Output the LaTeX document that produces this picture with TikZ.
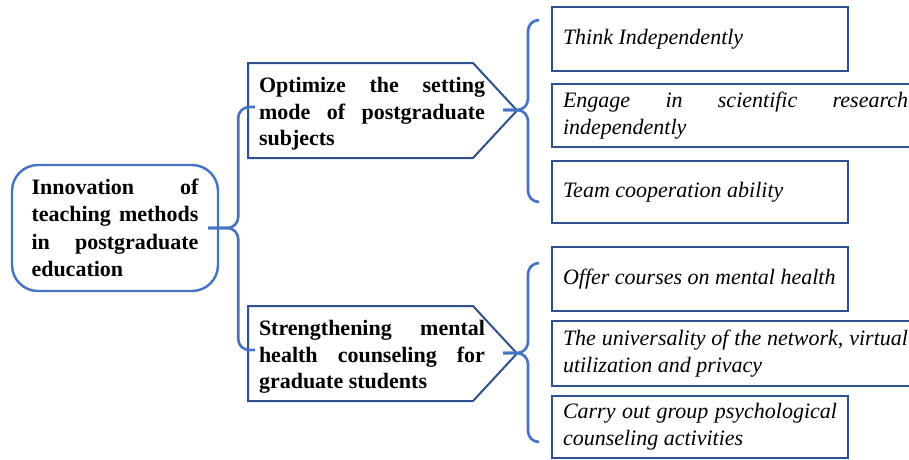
\documentclass[tikz,border=0pt]{standalone}
\usepackage{fontspec}
\setmainfont{Liberation Serif}
\usetikzlibrary{positioning}
\definecolor{boxblue}{HTML}{2F528F}
\definecolor{linkblue}{HTML}{4472C4}
\hyphenpenalty=10000
\tolerance=9999

\begin{document}
\begin{tikzpicture}[x=1pt, y=-1pt,
    rootbox/.style={draw=linkblue, line width=2.4pt, rounded corners=26pt, minimum width=206pt, minimum height=126pt, text width=167pt, align=justify, font=\fontsize{22}{27.5}\selectfont\bfseries},
    branchtext/.style={text width=226pt, inner sep=0pt, align=justify, font=\fontsize{22}{26.5}\selectfont\bfseries},
    pentline/.style={draw=boxblue, line width=2pt, line join=miter},
    leaf/.style={draw=boxblue, line width=2pt, anchor=west, inner xsep=11pt, text width=274pt, minimum height=64pt, align=justify, font=\fontsize{22}{27}\selectfont\itshape},
    wideleaf/.style={leaf, text width=345pt},
    brace/.style={draw=linkblue, line width=2.6pt, rounded corners=11pt}]

    \useasboundingbox (0,0) rectangle (909,459);
    \clip (0,0) rectangle (909,459);

    % Root
    \node[rootbox] (root) at (115,228) {Innovation of\linebreak teaching methods\linebreak in postgraduate\linebreak education};

    % Branches (pentagons)
    \draw[pentline] (248,63) -- (473,63) -- (517,110.5) -- (473,158) -- (248,158) -- cycle;
    \node[branchtext] (optim) at (372,114) {Optimize the setting\linebreak mode of postgraduate\linebreak subjects};
    \draw[pentline] (248,306) -- (473,306) -- (517,353.5) -- (473,401) -- (248,401) -- cycle;
    \node[branchtext] (mental) at (372,357) {Strengthening mental\linebreak health counseling for\linebreak graduate students};

    \coordinate (optimIn) at (255,107);
    \coordinate (mentalIn) at (255,350);
    \coordinate (optimTip) at (503,110);
    \coordinate (mentalTip) at (503,353);

    % Leaves
    \node[leaf] (think) at (551,39) {Think Independently};
    \node[wideleaf, minimum height=63pt] (engage) at (551,115.5) {Engage in scientific research\linebreak independently};
    \node[leaf, minimum height=62pt] (team) at (551,192) {Team cooperation ability};
    \node[leaf] (offer) at (551,279) {Offer courses on mental health};
    \node[wideleaf, minimum height=65pt] (network) at (551,353.5) {The universality of the network, virtual\linebreak utilization and privacy};
    \node[leaf, minimum height=62pt] (group) at (551,427) {Carry out group psychological\linebreak counseling activities};

    \coordinate (thinkTop) at (539,20);
    \coordinate (teamBot) at (539,202);
    \coordinate (offerTop) at (539,263);
    \coordinate (groupBot) at (539,442);

    % Braces
    \draw[brace] ([xshift=-11pt]root.east) -- ++(30,0) |- (optimIn);
    \draw[brace] ([xshift=-11pt]root.east) -- ++(30,0) |- (mentalIn);
    \draw[brace] (optimTip) -- ++(25,0) |- (thinkTop);
    \draw[brace] (optimTip) -- ++(25,0) |- (teamBot);
    \draw[brace] (mentalTip) -- ++(25,0) |- (offerTop);
    \draw[brace] (mentalTip) -- ++(25,0) |- (groupBot);

\end{tikzpicture}
\end{document}
